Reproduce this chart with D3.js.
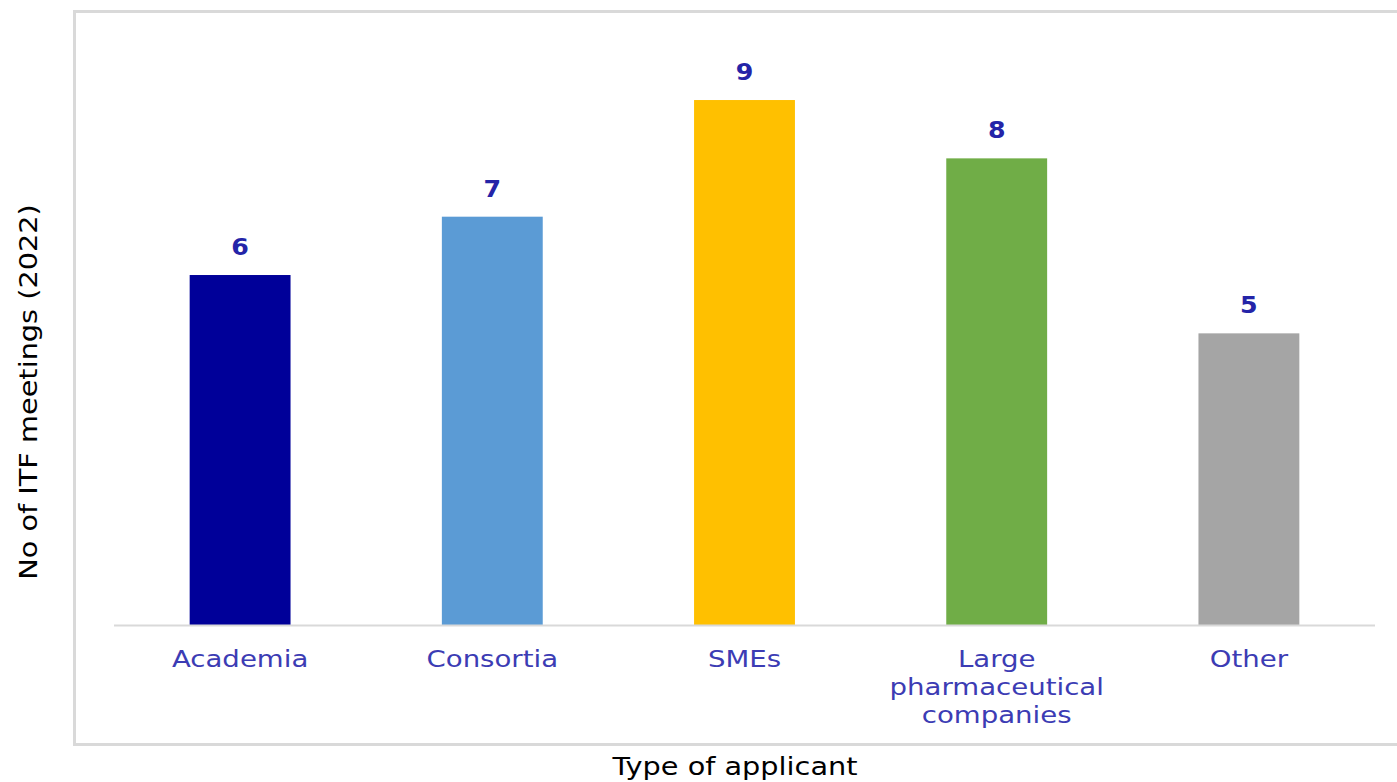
<!DOCTYPE html>
<html>
<head>
<meta charset="utf-8">
<script src="https://cdn.jsdelivr.net/npm/d3@7"></script>
<style>
body { margin: 0; background: #fff; }
svg { display: block; }
</style>
</head>
<body>
<script>
var categories = ["Academia", "Consortia", "SMEs", "Large pharmaceutical companies", "Other"];
var catLines = [["Academia"], ["Consortia"], ["SMEs"], ["Large", "pharmaceutical", "companies"], ["Other"]];
var values = [6, 7, 9, 8, 5];
var colors = ["#000099", "#5b9bd5", "#ffc000", "#70ad47", "#a5a5a5"];

var width = 1397, height = 782;

var svg = d3.select("body").append("svg")
    .attr("width", width)
    .attr("height", height);

//chart frame
svg.append("rect")
    .attr("x", 74.5)
    .attr("y", 11.5)
    .attr("width", 1340)
    .attr("height", 733)
    .attr("fill", "#fff")
    .attr("stroke", "#d9d9d9")
    .attr("stroke-width", 3);

var x = d3.scaleBand()
    .domain(categories)
    .range([114, 1375])
    .paddingInner(0.6)
    .paddingOuter(0.3);

var y = d3.scaleLinear()
    .domain([0, 10])
    .range([625, 41.7]);

svg.selectAll("rect.bar")
    .data(values)
    .enter().append("rect")
    .attr("class", "bar")
    .attr("x", function(d, i) { return x(categories[i]); })
    .attr("y", function(d) { return y(d); })
    .attr("width", x.bandwidth())
    .attr("height", function(d) { return y(0) - y(d); })
    .attr("fill", function(d, i) { return colors[i]; });

//baseline
svg.append("line")
    .attr("x1", 114)
    .attr("x2", 1375)
    .attr("y1", y(0) + 0.5)
    .attr("y2", y(0) + 0.5)
    .attr("stroke", "#d9d9d9")
    .attr("stroke-width", 2);

//value labels
svg.selectAll("text.val")
    .data(values)
    .enter().append("text")
    .attr("class", "val")
    .attr("transform", function(d, i) {
	return "translate(" + (x(categories[i]) + x.bandwidth()/2) + "," + (y(d) - 20) + ") scale(1.1,1)";
    })
    .attr("text-anchor", "middle")
    .attr("font-family", "DejaVu Sans")
    .attr("font-weight", "bold")
    .attr("font-size", "23px")
    .attr("fill", "#2424a8")
    .text(function(d) { return d; });

//category labels
catLines.forEach(function(lines, i) {
    var t = svg.append("text")
        .attr("transform", "translate(" + (x(categories[i]) + x.bandwidth()/2) + ",667) scale(1.2,1)")
        .attr("text-anchor", "middle")
        .attr("font-family", "DejaVu Sans")
        .attr("font-size", "23px")
        .attr("fill", "#3c3cb4");
    lines.forEach(function(s, j) {
        t.append("tspan")
            .attr("x", 0)
            .attr("dy", j == 0 ? 0 : 28)
            .text(s);
    });
});

//axis titles
svg.append("text")
    .attr("transform", "translate(37,392) rotate(-90) scale(1.15,1)")
    .attr("text-anchor", "middle")
    .attr("font-family", "DejaVu Sans")
    .attr("font-size", "25px")
    .attr("fill", "#000")
    .text("No of ITF meetings (2022)");

svg.append("text")
    .attr("transform", "translate(735,775) scale(1.15,1)")
    .attr("text-anchor", "middle")
    .attr("font-family", "DejaVu Sans")
    .attr("font-size", "25px")
    .attr("fill", "#000")
    .text("Type of applicant");
</script>
</body>
</html>
